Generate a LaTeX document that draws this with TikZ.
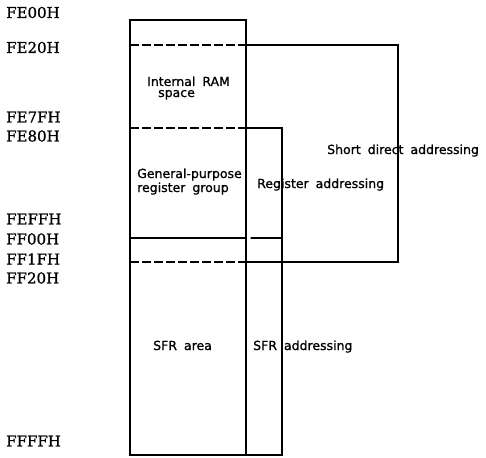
\documentclass[tikz,border=0pt]{standalone}
\usepackage{fontspec}
\usepackage{tikz}
\usetikzlibrary{positioning}
\newfontfamily\addrfont[FakeBold=1]{DejaVu Serif}
\newfontfamily\areafont[FakeBold=1]{DejaVu Sans}
\newcommand\gap{\hspace{7pt}}
\tikzset{
  addr/.style={font=\addrfont\fontsize{15}{18}\selectfont,anchor=west,inner sep=0pt},
  area/.style={font=\areafont\fontsize{12.5}{11}\selectfont,
               align=left,inner sep=0pt,anchor=base west},
  wall/.style={line width=1.3pt,line cap=round,line join=miter},
  split/.style={line width=1.3pt,dash pattern=on 9pt off 3pt},
}
\begin{document}
\begin{tikzpicture}[x=1pt,y=-1pt]
\useasboundingbox (0,0) rectangle (486,457);
% corners of the memory map
\coordinate (top-l) at (130,20);
\coordinate (top-m) at (246,20);
\coordinate (bot-l) at (130,455);
\coordinate (bot-m) at (246,455);
\coordinate (bot-r) at (282,455);
\coordinate (ram-l) at (130,45);
\coordinate (ram-m) at (246,45);
\coordinate (ram-r) at (398,45);
\coordinate (reg-l) at (130,128);
\coordinate (reg-m) at (246,128);
\coordinate (reg-r) at (282,128);
\coordinate (sfr-l) at (130,238);
\coordinate (sfr-m) at (246,238);
\coordinate (sfr-s) at (251,238);
\coordinate (sfr-r) at (282,238);
\coordinate (end-l) at (130,262);
\coordinate (end-m) at (246,262);
\coordinate (end-r) at (398,262);

% addresses
\foreach \y/\a in {12.5/FE00H,47.5/FE20H,117/FE7FH,136/FE80H,219/FEFFH,
                   239/FF00H,259/FF1FH,278/FF20H,441/FFFFH}
  \node[addr] (a-\a) at (6,\y) {\a};

% outline
\draw[wall] (bot-m) -- (top-m) -- (top-l) -- (bot-l) -- (bot-r) -- (reg-r) -- (reg-m);
\draw[wall] (ram-m) -- (ram-r) -- (end-r) -- (end-m);
\draw[wall] (sfr-l) -- (sfr-m);
\draw[wall] (sfr-s) -- (sfr-r);
\draw[split] (ram-l) -- (ram-m);
\draw[split] (reg-l) -- (reg-m);
\draw[split] (end-l) -- (end-m);

% areas (base anchor sits on the last line)
\node[area] (ram) at (147,97) {Internal\gap RAM\\ \hspace*{11pt}space};
\node[area,font=\areafont\fontsize{12.5}{14}\selectfont] (gpr) at (137,192) {General-purpose\\register\gap group};
\node[area] (sfr) at (153,350) {SFR\gap area};
\node[area] (regad) at (257,188) {Register\gap addressing};
\node[area] (shortad) at (327,154) {Short\gap direct\gap addressing};
\node[area] (sfrad) at (253,350) {SFR\gap addressing};
\end{tikzpicture}
\end{document}
